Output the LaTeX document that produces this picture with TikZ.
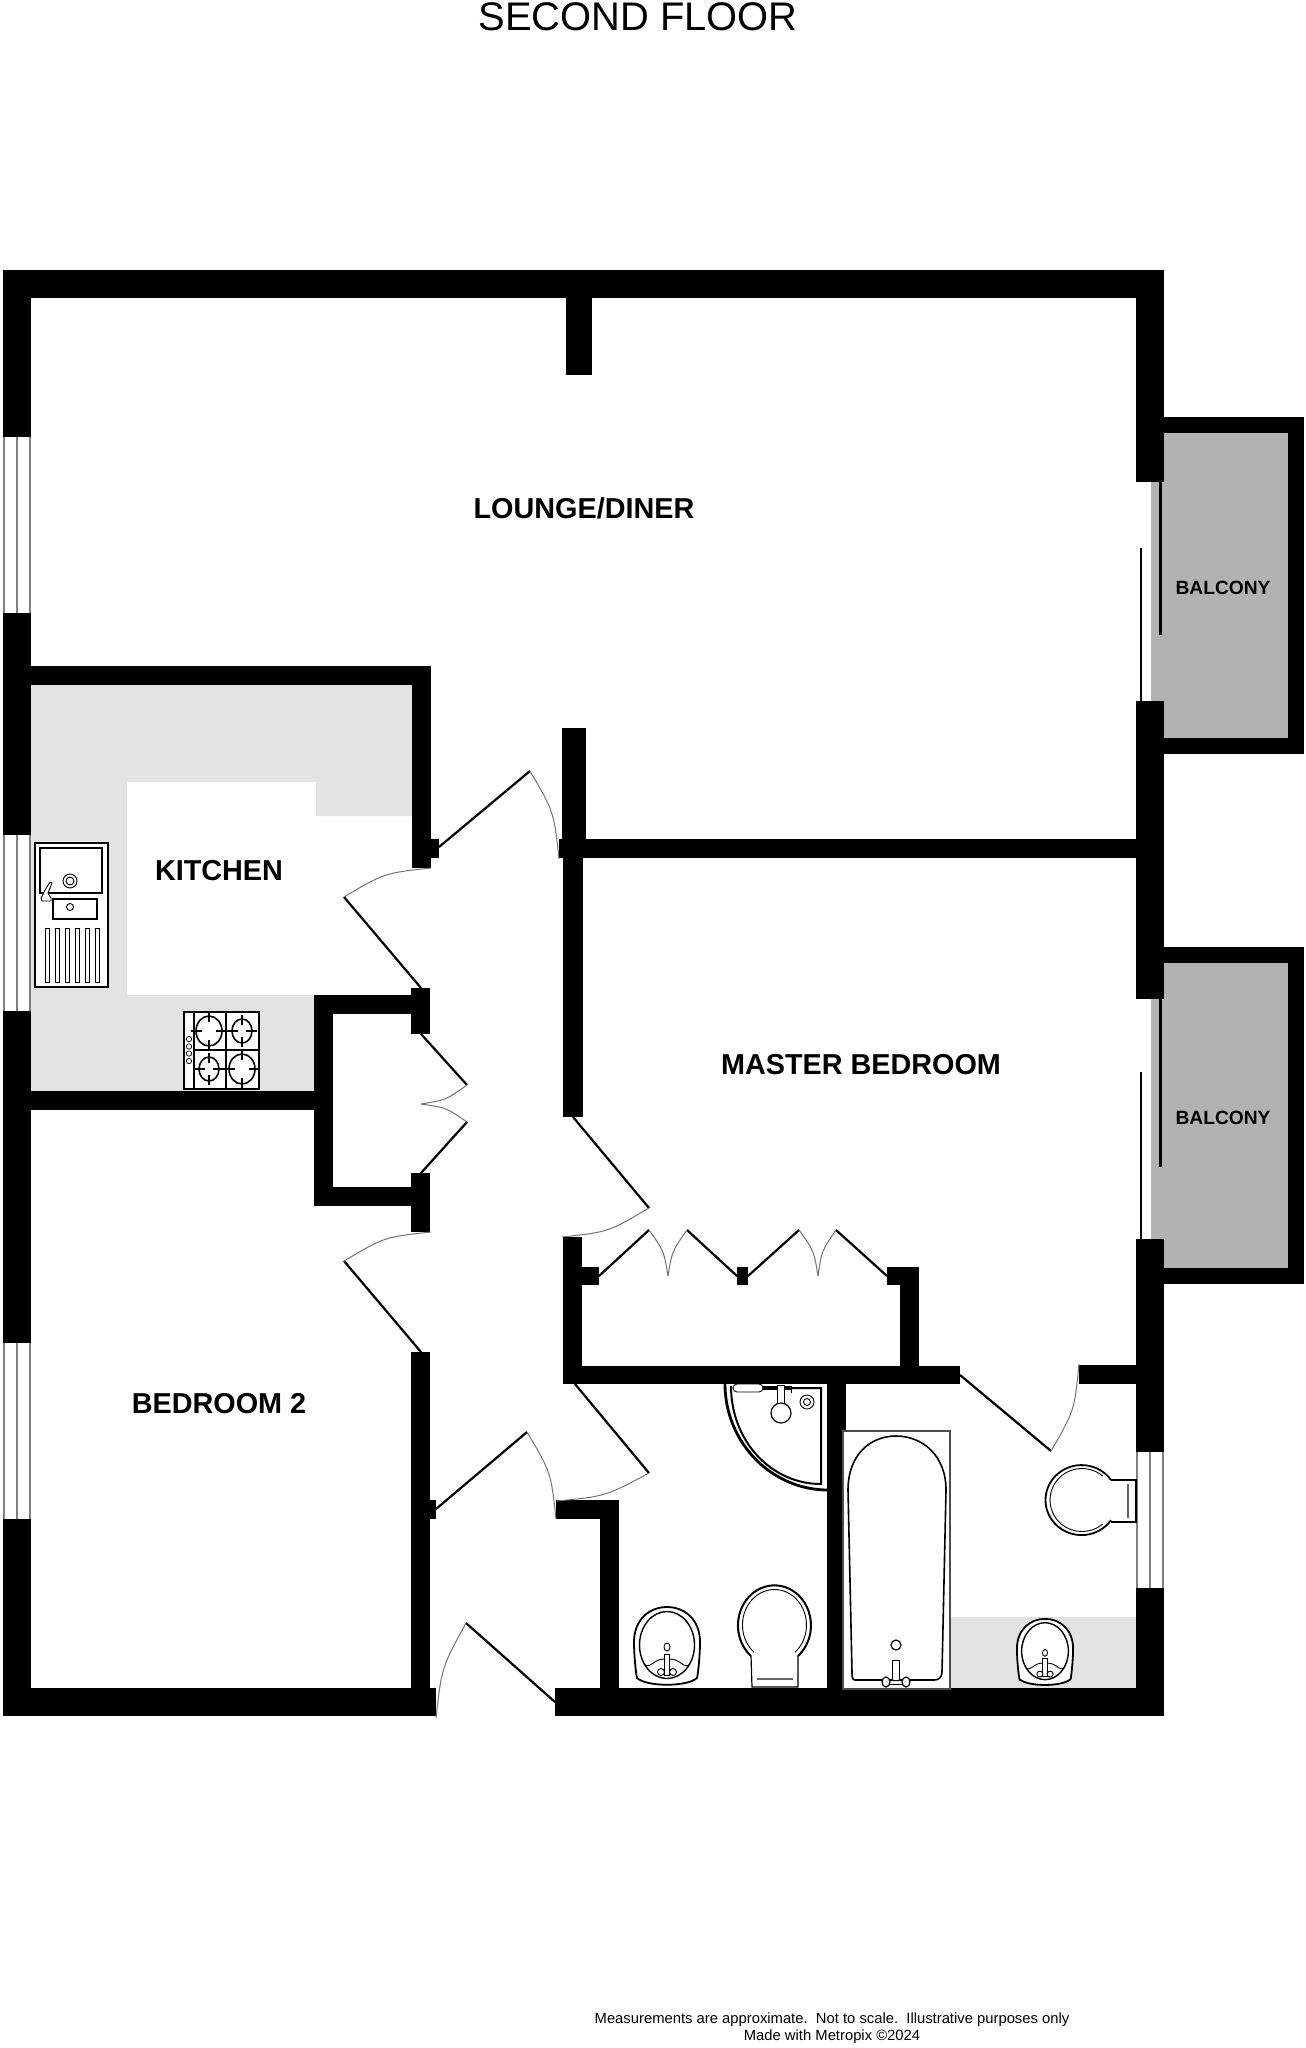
\documentclass[tikz,border=0pt]{standalone}
\usepackage{fontspec}
\setmainfont{Liberation Sans}
\usetikzlibrary{calc}

\definecolor{worktop}{HTML}{E3E3E3}
\definecolor{decking}{HTML}{B2B2B2}

\tikzset{
    wall/.style={fill=black, draw=none},
    leaf/.style={draw=black, line width=1.1pt},
    swing/.style={draw=black!55, line width=0.5pt},
    fixture/.style={draw=black, line width=0.7pt, fill=white},
    thinfix/.style={draw=black, line width=0.45pt},
    pane/.style={draw=black!50, line width=0.9pt},
    roomlabel/.style={font=\bfseries\fontsize{14.4}{17}\selectfont, inner sep=0pt},
    balconylabel/.style={font=\bfseries\fontsize{9.6}{12}\selectfont, inner sep=0pt},
    washbasin/.pic={
        \draw[line width=0.9pt, fill=white] (-30,32) .. controls (-31,28) and (-33,10) .. (-33,-4)
            .. controls (-33,-26) and (-18,-39) .. (0,-39) .. controls (18,-39) and (33,-26) .. (33,-4)
            .. controls (33,10) and (31,28) .. (30,32) .. controls (20,41) and (-20,41) .. cycle;
        \draw[line width=0.7pt] (0,-1) ellipse [x radius=27.5, y radius=33.5];
        \draw[thinfix] (-23,18) .. controls (-17,24) and (-14,13) .. (-3,13);
        \draw[thinfix] (23,18) .. controls (17,24) and (14,13) .. (3,13);
        \draw[thinfix, fill=white] (-2.5,8) rectangle (2.5,29);
        \draw[thinfix, fill=white] (-6,26) circle [radius=3.5];
        \draw[thinfix, fill=white] (6,26) circle [radius=3.5];
        \draw[thinfix] (0,1) ellipse [x radius=3, y radius=4];
    }
}

\newcommand{\doorset}[3]{
    \draw[leaf] #1 -- #2;
    \draw[swing] #2 .. controls ($#2!0.5!#3!-0.09!#1$) .. #3;
}

\begin{document}
\begin{tikzpicture}[x=0.5pt, y=-0.5pt]
    \useasboundingbox (0,0) rectangle (1305,2048);

    % Floor tints:
    \fill[worktop] (31,685) -- (412,685) -- (412,816) -- (316,816) -- (316,782) -- (127,782)
        -- (127,995) -- (314,995) -- (314,1091) -- (31,1091) -- cycle;
    \fill[worktop] (951,1617) rectangle (1136,1688);
    \fill[decking] (1164,433) rectangle (1288,738);
    \fill[decking] (1151,482) rectangle (1164,701);
    \fill[decking] (1164,963) rectangle (1288,1268);
    \fill[decking] (1151,999) rectangle (1164,1239);

    % Walls:
    \foreach \xa/\ya/\xb/\yb in {
        3/270/1164/298, 3/270/31/437, 3/613/31/835, 3/1011/31/1343, 3/1519/31/1716,
        1136/270/1164/482, 1136/701/1164/999, 1136/1239/1164/1452, 1136/1588/1164/1716,
        1164/417/1304/433, 1288/417/1304/754, 1164/738/1304/754,
        1164/947/1304/963, 1288/947/1304/1284, 1164/1268/1304/1284,
        566/298/592/375,
        31/666/431/685, 412/666/431/868, 431/839/439/858,
        31/1091/333/1110, 314/995/333/1206, 314/995/430/1014, 411/988/430/1034,
        314/1187/430/1206, 411/1173/430/1232, 411/1352/430/1716, 3/1688/436/1716,
        430/1500/436/1519,
        562/728/586/839, 559/839/1136/858, 563/858/583/1117,
        563/1237/582/1384, 563/1366/960/1384, 582/1267/599/1285, 737/1267/748/1285,
        887/1267/919/1285, 900/1267/919/1366, 1079/1365/1136/1384,
        827/1384/846/1688, 556/1500/619/1519, 600/1500/619/1690, 555/1688/1164/1716}{
        \fill[wall] (\xa,\ya) rectangle (\xb,\yb);
    }

    % Windows:
    \foreach \xa/\xm/\xb/\ya/\yb in {4/17/30/437/613, 4/17/30/835/1011, 4/17/30/1343/1519, 1137/1150/1163/1452/1588}{
        \draw[pane] (\xa,\ya) -- (\xa,\yb);
        \draw[pane] (\xm,\ya) -- (\xm,\yb);
        \draw[pane] (\xb,\ya) -- (\xb,\yb);
    }

    % Sliding doors to the balconies:
    \draw[draw=black, line width=1.5pt] (1160,482) -- (1160,635);
    \draw[draw=black, line width=1.2pt] (1141,548) -- (1141,701);
    \draw[draw=black, line width=1.5pt] (1160,999) -- (1160,1167);
    \draw[draw=black, line width=1.2pt] (1141,1072) -- (1141,1239);

    % Doors:
    \doorset{(421,988)}{(344,897)}{(431,868)}
    \doorset{(439,847)}{(530,771)}{(559,859)}
    \doorset{(421,1034)}{(467,1085)}{(421,1104)}
    \doorset{(421,1173)}{(467,1122)}{(421,1104)}
    \doorset{(421,1352)}{(344,1261)}{(431,1232)}
    \doorset{(573,1117)}{(649,1208)}{(562,1237)}
    \doorset{(599,1276)}{(649,1230)}{(668,1276)}
    \doorset{(737,1276)}{(687,1230)}{(668,1276)}
    \doorset{(748,1276)}{(799,1230)}{(818,1276)}
    \doorset{(887,1276)}{(836,1230)}{(818,1276)}
    \doorset{(575,1384)}{(649,1473)}{(557,1501)}
    \doorset{(960,1375)}{(1051,1451)}{(1079,1364)}
    \doorset{(436,1509)}{(527,1432)}{(556,1519)}
    \doorset{(555,1702)}{(466,1623)}{(436,1718)}

    % Kitchen sink:
    \draw[fixture] (35,843) rectangle (108,987);
    \draw[thinfix, line width=0.6pt] (40,848) rectangle (102,893);
    \draw[thinfix] (70,881) circle [radius=7];
    \draw[thinfix] (70,881) circle [radius=4];
    \draw[fixture, line width=0.8pt] (53,899) rectangle (97,919);
    \draw[thinfix] (70,907) circle [radius=3.5];
    \draw[thinfix, fill=white] (50,882) -- (52,883) -- (48,893) -- (51,898) -- (51,901) -- (42,901) -- (41,898) -- (45,890) -- cycle;
    \foreach \xa in {45,55,65,75,85,95}{
        \draw[thinfix] (\xa,928) rectangle ++(4.5,54);
    }

    % Hob:
    \draw[fixture] (184,1012) rectangle (259,1089);
    \draw[thinfix, line width=0.6pt] (194,1012) -- (194,1089);
    \draw[thinfix, line width=0.6pt] (226,1012) -- (226,1089);
    \draw[thinfix, line width=0.6pt] (194,1050) -- (259,1050);
    \foreach \cx/\cy/\rx/\ry in {209/1031/13/15, 242/1031/10/12, 209/1069/10/12, 242/1069/13/15}{
        \draw[line width=0.8pt] (\cx,\cy) ellipse [x radius=\rx, y radius=\ry];
        \draw[thinfix, line width=0.6pt] (\cx-\rx-5,\cy) -- (\cx-\rx+6,\cy);
        \draw[thinfix, line width=0.6pt] (\cx+\rx-6,\cy) -- (\cx+\rx+5,\cy);
        \draw[thinfix, line width=0.6pt] (\cx,\cy-\ry-4) -- (\cx,\cy-\ry+6);
        \draw[thinfix, line width=0.6pt] (\cx,\cy+\ry-6) -- (\cx,\cy+\ry+4);
    }
    \foreach \cy in {1039,1046.5,1053.5,1061}{
        \draw[thinfix, line width=0.35pt] (189,\cy) circle [radius=2.7];
    }

    % Shower:
    \draw[line width=1.4pt] (725,1384) .. controls (725,1442) and (771,1490) .. (828,1490);
    \draw[line width=1pt] (731,1386) .. controls (731,1441) and (771,1484) .. (821,1484) -- (821,1388) -- (763,1388);
    \draw[thinfix, fill=white, rounded corners=2pt] (733,1384) rectangle (763,1392);
    \draw[thinfix] (763,1386) -- (792,1386);
    \draw[thinfix] (763,1389) -- (792,1389);
    \draw[thinfix] (791,1386) -- (791,1393);
    \draw[thinfix, fill=white] (777,1385) rectangle (784,1404);
    \draw[thinfix, fill=white, line width=0.6pt] (781,1413) circle [radius=10];
    \draw[thinfix] (807,1402) circle [radius=7];
    \draw[thinfix] (807,1402) circle [radius=3.5];

    % Basins:
    \pic at (667,1646) {washbasin};
    \pic[scale=0.85] at (1045,1652) {washbasin};

    % Toilets:
    \draw[line width=1pt] (751,1656) arc [start angle=130, end angle=410, x radius=36.5, y radius=40];
    \draw[thinfix] (753.9,1652.2) arc [start angle=130, end angle=410, x radius=32, y radius=35.5];
    \draw[thinfix, line width=0.6pt] (751,1656) -- (752,1687) -- (798,1687) -- (798,1656);
    \draw[draw=black!60, line width=0.8pt] (757,1679) -- (793,1679);
    \draw[line width=0.9pt] (1111,1480) arc [start angle=-35, end angle=-325, x radius=36, y radius=35];
    \draw[thinfix] (1102.6,1475.9) arc [start angle=-50, end angle=-310, x radius=32, y radius=31.5];
    \draw[thinfix, line width=0.6pt] (1111,1480) -- (1136,1480) -- (1136,1522) -- (1111,1522);
    \draw[draw=black!60, line width=0.8pt] (1128,1484) -- (1128,1518);

    % Bath:
    \draw[draw=black!70, line width=0.6pt, fill=white] (843,1431) rectangle (950,1689);
    \draw[line width=0.8pt] (855,1680) .. controls (852,1680) and (852,1676) .. (852,1672) -- (848,1490)
        .. controls (848,1455) and (870,1436) .. (896,1436) .. controls (922,1436) and (946,1455) .. (946,1490)
        -- (942,1672) .. controls (942,1678) and (938,1680) .. (934,1680) -- cycle;
    \draw[thinfix, line width=0.6pt] (896,1645) circle [radius=5];
    \draw[thinfix, fill=white] (892.5,1660) rectangle (899.5,1684);
    \draw[thinfix, fill=white] (889,1680) rectangle (903,1684);
    \draw[thinfix, fill=white, line width=0.6pt] (886,1682) ellipse [x radius=4, y radius=5];
    \draw[thinfix, fill=white, line width=0.6pt] (906,1682) ellipse [x radius=4, y radius=5];

    % Labels:
    \node[inner sep=0pt, font=\fontsize{19.95}{24}\selectfont] (title) at (638,17) {SECOND FLOOR};
    \node[roomlabel] (lounge) at (584,508) {LOUNGE/DINER};
    \node[roomlabel] (kitchen) at (219,871) {KITCHEN};
    \node[roomlabel] (master) at (861,1065) {MASTER BEDROOM};
    \node[roomlabel] (bedroomtwo) at (219,1404) {BEDROOM 2};
    \node[balconylabel] (balconyone) at (1223,588) {BALCONY};
    \node[balconylabel] (balconytwo) at (1223,1118) {BALCONY};
    \node[inner sep=0pt, font=\fontsize{7.4}{9}\selectfont] (noteone) at (832,2020) {Measurements are approximate.\ \ Not to scale.\ \ Illustrative purposes only};
    \node[inner sep=0pt, font=\fontsize{7.4}{9}\selectfont] (notetwo) at (832,2037) {Made with Metropix ©2024};
\end{tikzpicture}
\end{document}
